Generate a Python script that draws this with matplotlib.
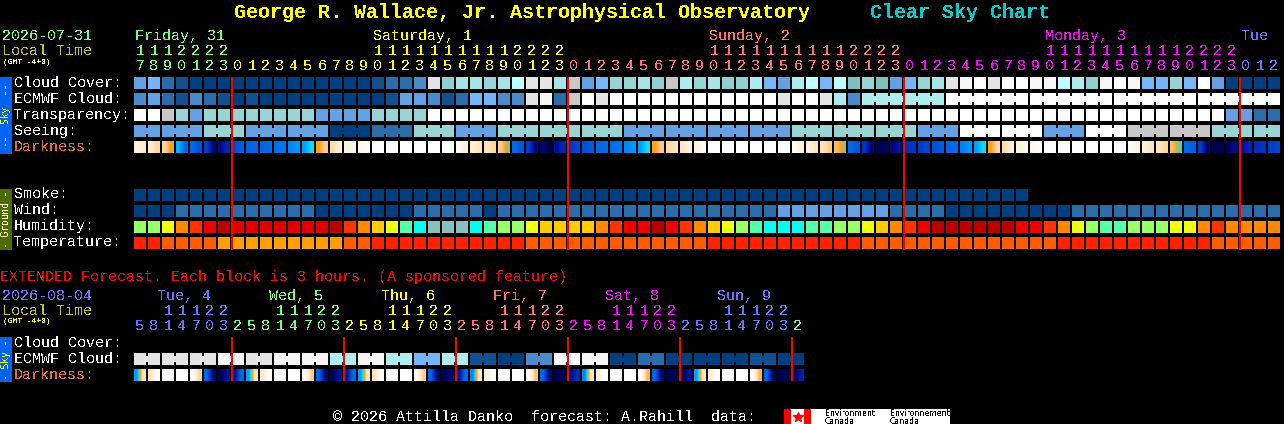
import matplotlib
matplotlib.use("Agg")
import matplotlib.pyplot as plt
from matplotlib.colors import LinearSegmentedColormap
from matplotlib.patches import Rectangle

plt.rcParams['font.family'] = ['Liberation Mono']
plt.rcParams['text.antialiased'] = False

# sky colour scale used by cloud, transparency, seeing
sky_pal = ['#003F7F', '#135090', '#2B6CAB', '#4B8BCA', '#63A1E2', '#77B5F9',
           '#7FBFBF', '#90D0D0', '#99D4D4', '#A5E5E5', '#ADEDED', '#BFFFFF',
           '#C8C8C8', '#E4E4E4', '#F6F6F6', '#FFFFFF']
hum_pal = ['#99FF66', '#EEFF11', '#FFCC00', '#FF8800', '#FF3300', '#EE0000',
           '#BB0000', '#E00000', '#55FFAA', '#00FFEE', '#88BFBF']
temp_pal = ['#FF2200', '#FF5C00', '#FFA000']
dark_stops = [(0, '#FFFFFF'), (1, '#FFF0D8'), (2, '#FFD8A0'), (3, '#FFA020'),
              (3.5, '#60D0A0'), (4, '#00E0FF'), (5, '#00A0FF'), (6, '#0070E8'),
              (7, '#0050D8'), (8, '#0030B8'), (9, '#0010A0'), (10, '#000050')]

cloud = [4, 5, 2, 1, 0, 0, 0, 0, 0, 0, 0, 0, 0, 0, 0, 0, 0, 1, 2, 2, 3, 13, 7, 9, 9, 8, 9, 11,
         13, 13, 9, 12, 4, 5, 8, 8, 9, 7, 12, 10, 8, 9, 7, 7, 10, 5, 4, 10, 11, 5, 11, 6, 8, 6,
         4, 5, 8, 9, 13, 14, 15, 13, 15, 15, 14, 14, 11, 10, 7, 14, 15, 14, 5, 5, 8, 5, 15, 4,
         0, 0, 0, 0]
ecmwf = [3, 4, 2, 1, 3, 2, 1, 0, 1, 0, 0, 0, 0, 0, 0, 0, 0, 0, 1, 4, 4, 3, 1, 2, 5, 5, 3, 3,
         13, 14, 2, 12, 15, 13, 15, 15, 15, 15, 15, 15, 15, 15, 15, 15, 15, 15, 13, 15, 15, 13,
         10, 3, 10, 10, 10, 10, 10, 10, 15, 15, 15, 15, 15, 15, 15, 15, 15, 15, 15, 15, 15, 15,
         15, 15, 15, 15, 15, 15, 15, 15, 15, 15]
transp = [15, 15, 12, 8, 4, 8, 8, 8, 8, 8, 8, 8, 8, 4, 4, 4, 4, 8, 8, 8, 8, 15, 15, 15, 15, 15,
          15, 15, 15, 15, 15, 15, 15, 15, 15, 15, 15, 15, 15, 15, 15, 15, 15, 15, 15, 15, 15, 15,
          15, 15, 15, 15, 15, 15, 15, 15, 15, 15, 15, 15, 15, 15, 15, 15, 15, 15, 15, 15, 15, 15,
          15, 15, 15, 15, 15, 15, 15, 15, 4, 4, 2, 2]
seeing = [4, 4, 4, 4, 4, 8, 8, 8, 4, 4, 4, 4, 4, 4, 0, 0, 0, 2, 2, 2, 8, 8, 8, 4, 4, 4, 8, 8, 8,
          8, 8, 8, 8, 8, 8, 4, 4, 4, 4, 4, 4, 4, 4, 4, 4, 4, 4, 8, 8, 8, 8, 8, 8, 8, 8, 8, 4, 4,
          4, 15, 15, 15, 15, 15, 15, 4, 4, 4, 15, 15, 15, 12, 12, 12, 12, 12, 12, 8, 8, 8, 8, 8]
dark_a = [.8, 1.2, 2, 4.7, 6.2, 7.5, 9.3, 7.2, 6.4, 6.3, 6, 5.5, 5, 3, 1.8, 1, .5, 0, 0, 0, 0, 0,
          0, .3, 1, 1.5, 2.2, 6.2, 7.5, 9.6, 9, 7.8, 7, 6.3, 6, 5.5, 5, 3, 2, 1.4, .7, 0, 0, 0, 0,
          0, 0, .3, 1, 1.6, 2.5, 6.2, 7.8, 10, 9.5, 8, 7.6, 7, 6.3, 5.6, 5, 3, 1.8, 1, .5, 0, 0,
          0, 0, 0, 0, .3, 1, 1.5, 2.5, 6.2, 7.6, 10, 9.8, 9, 8, 7.6]
dark_b = [1.2, 2, 3.1, 6.3, 7, 9.5, 8.3, 6.5, 6.2, 6.1, 5.8, 5.2, 4, 2.2, 1, .6, .2, 0, 0, 0, 0, 0,
          0, 1, 1.5, 2, 3.3, 6.8, 9.5, 10, 8.2, 7.2, 6.6, 6.1, 5.8, 5.2, 4, 2.3, 1.4, 1, .3, 0, 0,
          0, 0, 0, 0, .9, 1.4, 2.2, 3.3, 6.8, 9.6, 9.8, 9, 7.8, 7.3, 6.6, 6.1, 5.2, 4, 2, 1, .6,
          .2, 0, 0, 0, 0, 0, 0, .8, 1.5, 2, 3.6, 6.6, 9.7, 10, 9.2, 8.3, 7.8, 7.3]

smoke = [0] * 64
wind = [0, 0, 0, 2, 2, 2, 2, 2, 2, 2, 2, 2, 2, 0, 0, 0, 0, 0, 0, 0, 2, 2, 2, 2, 2, 0, 2, 2, 2, 2,
        2, 2, 2, 2, 2, 2, 2, 2, 2, 2, 2, 2, 2, 2, 2, 2, 4, 4, 4, 4, 4, 4, 4, 4, 2, 2, 2, 2, 0, 0,
        0, 0, 0, 0, 0, 0, 0, 2, 2, 2, 2, 2, 2, 2, 2, 2, 2, 2, 2, 2, 2, 2]
humidity = [0, 0, 1, 3, 4, 5, 6, 7, 7, 7, 7, 7, 7, 7, 6, 4, 3, 2, 1, 8, 9, 10, 10, 10, 9, 8, 0, 0,
            1, 2, 2, 2, 2, 3, 4, 5, 5, 6, 5, 4, 3, 2, 1, 0, 8, 9, 9, 9, 8, 8, 0, 0, 1, 2, 3, 4, 5,
            6, 6, 6, 6, 6, 6, 5, 5, 4, 3, 1, 0, 8, 8, 0, 0, 0, 1, 1, 3, 4, 3, 3, 3, 3]
temperature = [0, 0, 1, 1, 1, 1, 2, 2, 2, 2, 2, 2, 2, 2, 2, 1, 1, 0, 0, 0, 0, 0, 0, 0, 0, 0, 0, 0,
               1, 1, 1, 1, 1, 1, 1, 1, 1, 1, 1, 1, 1, 0, 0, 0, 0, 0, 0, 0, 0, 0, 0, 0, 1, 1, 1, 1,
               1, 1, 1, 1, 1, 1, 1, 1, 1, 1, 0, 0, 0, 0, 0, 0, 0, 0, 0, 0, 0, 1, 1, 1, 1, 1]

ext_ecmwf = [13, 13, 13, 13, 13, 13, 14, 14, 13, 13, 14, 14, 14, 14, 10, 10, 14, 14, 10, 10, 5, 5,
             10, 10, 1, 1, 0, 0, 3, 3, 15, 15, 14, 14, 0, 0, 2, 2, 0, 0, 0, 0, 0, 0, 1, 1, 0, 0]
ext_dark_a = [5, 1.5, 0, 0, 0, 6.2, 10, 9, 5, 1.2, 0, 0, 0, 6.2, 10, 9, 5, 1.5, 0, 0, .3, 6.3, 10,
              9, 5.5, 1, 0, 0, 0, 6.2, 10, 9.2, 5.5, 1, 0, 0, 0, 6.2, 10, 10, 5, 1, 0, 0, 0, 6.2,
              10, 10]
ext_dark_b = [1.5, .2, 0, 0, 2, 9.5, 9, 6.2, 1.5, .2, 0, 0, 2.2, 9.5, 9, 6.2, 1.5, .2, 0, 0, 2.2,
              9.5, 9.5, 6.2, 1.2, .2, 0, 0, 2.4, 9.5, 10, 8, 1.5, 0, 0, 0, 2.6, 9.5, 10, 9, 1.5,
              .2, 0, 0, 2.6, 10, 10, 8.5]

main_hours = [17, 18, 19, 20, 21, 22, 23] + list(range(24)) * 3 + [0, 1, 2]
day_cols = [0, 7, 31, 55, 79, 82]
day_names = ['Friday, 31', 'Saturday, 1', 'Sunday, 2', 'Monday, 3', 'Tue']
day_name_cols = [0, 17, 41, 65, 79]
day_colors = ['#76FF76', '#FFFF00', '#FF7070', '#FF00FF', '#7070FF']

ext_hours = [5, 8, 11, 14, 17, 20, 23] + [2, 5, 8, 11, 14, 17, 20, 23] * 5 + [2]
ext_day_cols = [0, 7, 15, 23, 31, 39, 47, 48]
ext_names = ['Tue, 4', 'Wed, 5', 'Thu, 6', 'Fri, 7', 'Sat, 8', 'Sun, 9']
ext_name_x = [157, 269, 381, 493, 605, 717]
ext_colors = ['#7070FF', '#76FF76', '#FFFF00', '#FF7070', '#FF00FF', '#7070FF', '#76FF76']

X0, STEP, CELL = 134, 14, 12
dark_cmap = LinearSegmentedColormap.from_list('dark', [(v / 10, c) for v, c in dark_stops], N=512)

fig = plt.figure(figsize=(12.84, 4.24), dpi=100, facecolor='black')
ax = fig.add_axes([0, 0, 1, 1])
ax.axis('off')


def box(x, y, w, h, color, z=2):
    ax.add_patch(Rectangle((x, y), w, h, facecolor=color, edgecolor='none', antialiased=False, zorder=z))


def txt(x, y, s, color='white', px=15, **kw):
    ax.text(x, y, s, color=color, fontsize=px * 0.72, va='baseline', **kw)


def row(y, values, pal, first=None, span=None):
    for i, v in enumerate(values):
        x = X0 + i * STEP
        box(x, y, CELL, CELL, pal[v])
        if first is not None and i >= first and (i - first) % span != span - 1 and i + 1 < len(values):
            box(x + CELL, y + 3, STEP - CELL, 6, pal[v])


def dark_row(y, a, b):
    for i in range(len(a)):
        x = X0 + i * STEP
        ax.imshow([[a[i], b[i]]], extent=(x, x + CELL, y + CELL, y), cmap=dark_cmap, vmin=0, vmax=10,
                  interpolation='bilinear', interpolation_stage='data', aspect='auto', zorder=2)


# main block
row(77, cloud, sky_pal)
row(93, ecmwf, sky_pal, first=52, span=6)
row(109, transp, sky_pal)
row(125, seeing, sky_pal, first=-1, span=3)
dark_row(141, dark_a, dark_b)
row(189, smoke, sky_pal)
row(205, wind, sky_pal)
row(221, humidity, hum_pal)
row(237, temperature, temp_pal)

for c in day_cols[1:5]:
    ax.vlines(X0 + c * STEP, 77, 250, color='#FF0000', lw=1.44, zorder=5)

# extended block
row(353, ext_ecmwf, sky_pal, first=0, span=2)
dark_row(369, ext_dark_a, ext_dark_b)
for c in ext_day_cols[1:7]:
    ax.vlines(X0 + c * STEP, 337, 381, color='#FF0000', lw=1.44, zorder=5)

# titles
txt(234, 18, 'George R. Wallace, Jr. Astrophysical Observatory', '#FFFF00', px=20, fontweight='bold')
txt(870, 18, 'Clear Sky Chart', '#00CCCC', px=20, fontweight='bold')

# date headers
txt(2, 40, '2026-07-31', '#76FF76')
txt(2, 55, 'Local Time', '#C8C800')
txt(3, 64, '(GMT -4+0)', '#FFFF99', px=8)
for name, c, col in zip(day_names, day_name_cols, day_colors):
    txt(X0 + c * STEP + 1, 40, name, col)
for d in range(5):
    for c in range(day_cols[d], day_cols[d + 1]):
        h = main_hours[c]
        cx = X0 + c * STEP + 6
        if h >= 10:
            txt(cx, 55, str(h // 10), day_colors[d], ha='center')
        txt(cx, 70, str(h % 10), day_colors[d], ha='center')

for y, s, col in [(87, 'Cloud Cover:', 'white'), (103, 'ECMWF Cloud:', 'white'), (119, 'Transparency:', 'white'),
                  (135, 'Seeing:', 'white'), (151, 'Darkness:', '#E07030'), (198, 'Smoke:', 'white'),
                  (214, 'Wind:', 'white'), (230, 'Humidity:', 'white'), (246, 'Temperature:', 'white'),
                  (347, 'Cloud Cover:', 'white'), (363, 'ECMWF Cloud:', 'white'), (379, 'Darkness:', '#E07030')]:
    txt(14, y, s, col)

# side bars
box(0, 77, 12, 77, '#0064F0')
box(0, 189, 12, 61, '#4C6B08')
box(0, 337, 12, 45, '#0064F0')
side = dict(fontsize=6.9, rotation=90, ha='center', va='center', zorder=3, family='DejaVu Sans Mono')
ax.text(6, 115.5, '--  Sky  --', color='#FFFF00', **side)
ax.text(6, 219.5, '- Ground -', color='#FFFFCC', **side)
ax.text(6, 359.5, '- Sky -', color='#FFFF00', **side)

# extended headers
txt(0, 281, 'EXTENDED Forecast. Each block is 3 hours. (A sponsored feature)', '#FF0000')
txt(2, 300, '2026-08-04', '#7070FF')
txt(2, 315, 'Local Time', '#C8C800')
txt(3, 323, '(GMT -4+0)', '#FFFF00', px=8)
for name, x, col in zip(ext_names, ext_name_x, ext_colors):
    txt(x, 300, name, col)
for d in range(7):
    for c in range(ext_day_cols[d], ext_day_cols[d + 1]):
        h = ext_hours[c]
        cx = X0 + c * STEP + 6
        if h >= 10:
            txt(cx, 315, str(h // 10), ext_colors[d], ha='center')
        txt(cx, 330, str(h % 10), ext_colors[d], ha='center')

# footer and logo
txt(333, 421, '\u00a9 2026 Attilla Danko  forecast: A.Rahill  data:', 'white')
box(784, 409, 166, 15, 'white')
box(784, 409, 7, 15, '#FF0000', z=3)
box(804, 409, 7, 15, '#FF0000', z=3)
ax.plot([797.5], [416.5], marker='*', ms=7, color='#FF0000', zorder=4)
for x, a, b in [(825, 'Environment', 'Canada'), (890, 'Environnement', 'Canada')]:
    ax.text(x, 416, a, color='black', fontsize=5.6, family='DejaVu Sans', zorder=4)
    ax.text(x, 424, b, color='black', fontsize=5.6, family='DejaVu Sans', zorder=4)

ax.set_xlim(0, 1284)
ax.set_ylim(424, 0)
fig.savefig('out.png', dpi=100, facecolor='black')
